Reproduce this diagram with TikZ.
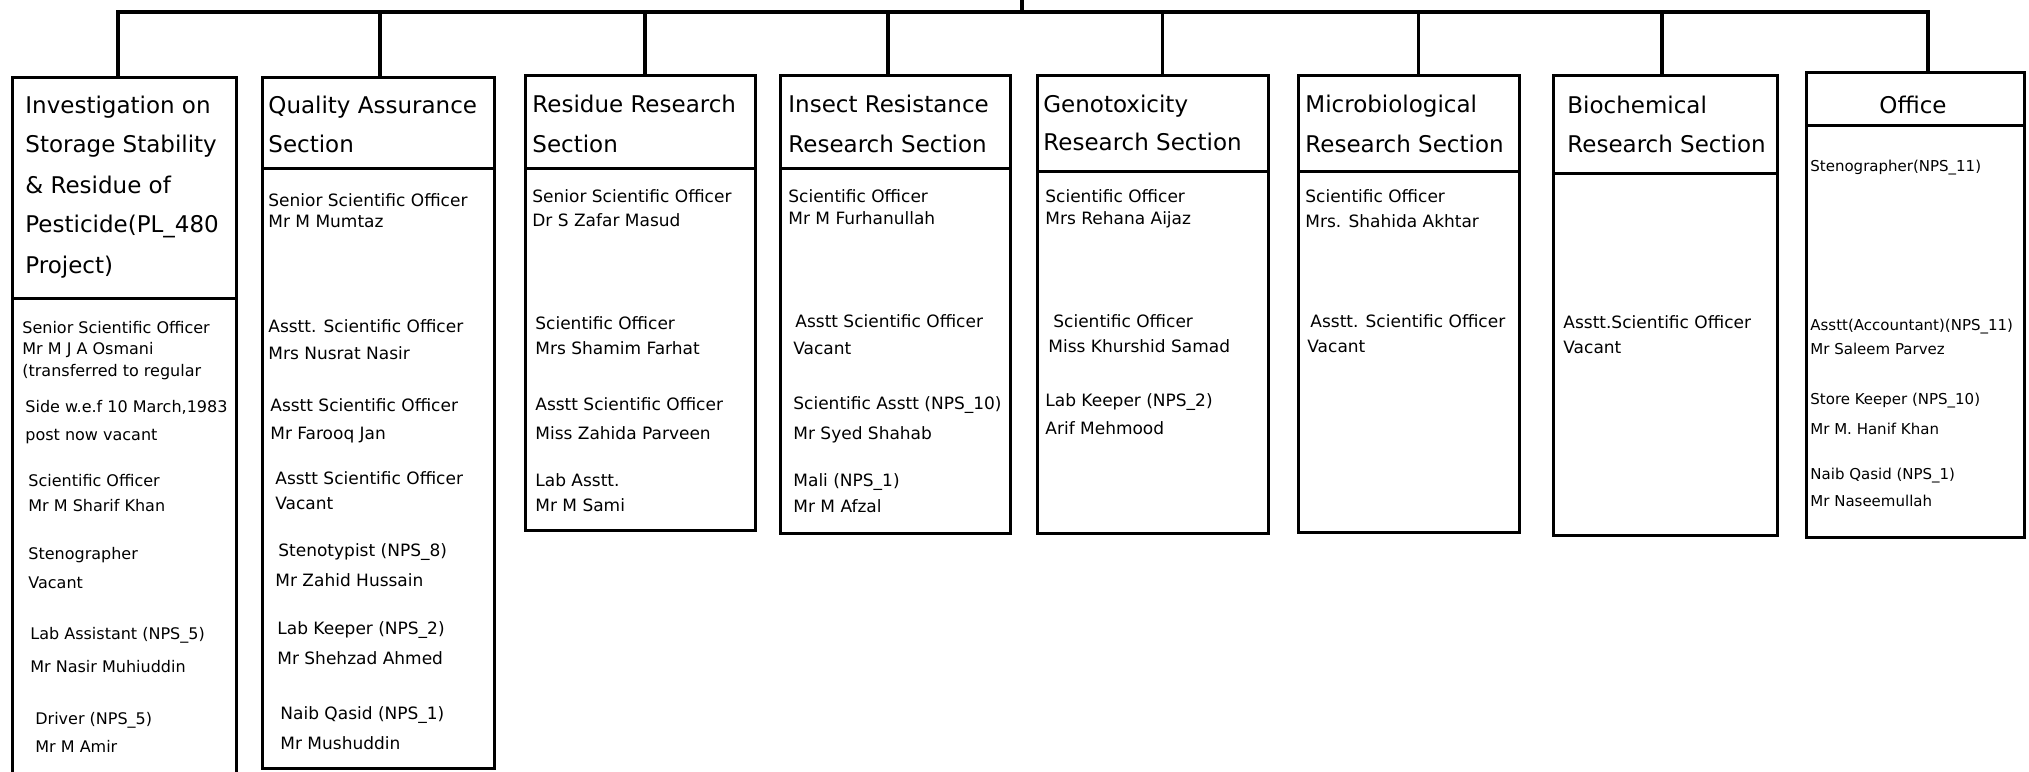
\documentclass[tikz,border=0pt]{standalone}
\usepackage{fontspec}
\setmainfont{DejaVu Sans}
\newcommand\secbox[6]{%
  \node[boxline,minimum width={(#4-#2)*0.5pt},minimum height={(#5-#3)*0.5pt}] (#1t) at (#2,#3) {};
  \node[boxline,minimum width={(#4-#2)*0.5pt},minimum height={(#6-#5)*0.5pt}] (#1b) at (#2,#5) {};}
\begin{document}
\begin{tikzpicture}[x=0.5pt,y=-0.5pt,
  boxline/.style={draw=black,line width=1.5pt,inner sep=0pt,outer sep=0pt,anchor=north west},
  conn/.style={draw=black,line width=1.8pt},
  tt/.style={inner sep=0pt,anchor=base west,font=\fontsize{11.5}{14}\selectfont},
  bt/.style={inner sep=0pt,anchor=base west,font=\fontsize{8.5}{10}\selectfont},
  bta/.style={inner sep=0pt,anchor=base west,font=\fontsize{8}{10}\selectfont},
  bto/.style={inner sep=0pt,anchor=base west,font=\fontsize{7.5}{9}\selectfont}]
\useasboundingbox (0,0) rectangle (2029,771);
\fill[white] (0,0) rectangle (2029,771);
\clip (0,0) rectangle (2029,771);

% boxes: name, x-left, y-top, x-right, y-title-bottom, y-bottom
\secbox{A}{12}{77}{236}{298}{800}
\secbox{B}{262}{77}{494}{168}{768}
\secbox{C}{525}{75}{755}{168}{530}
\secbox{D}{780}{75}{1010}{168}{533}
\secbox{E}{1037}{75}{1268}{171}{533}
\secbox{F}{1298}{75}{1519}{171}{532}
\secbox{G}{1553}{75}{1777}{173}{535}
\secbox{H}{1806}{72}{2024}{125}{537}

% connectors
\coordinate (bus) at (0,12);
\coordinate (par) at (1022,-10);
\draw[conn] ([xshift=-3pt]At.north) |- ([xshift=6.5pt]Ht.north |- bus) -- ([xshift=6.5pt]Ht.north);
\foreach \n/\s in {Bt/1pt,Ct/2.5pt,Dt/-3.5pt,Et/5pt,Ft/5pt,Gt/-1.5pt}
  \draw[conn] ([xshift=\s]\n.north) -- ([xshift=\s]\n.north |- bus);
\draw[conn] (par) -- (par |- bus);

% Box A
\node[tt] (A1) at (25,113) {Investigation on};
\node[tt] (A2) at (25,152) {Storage Stability};
\node[tt] (A3) at (25,193) {\& Residue of};
\node[tt] (A4) at (25,232) {Pesticide(PL\_480};
\node[tt] (A5) at (25,273) {Project)};
\node[bta] (A6) at (22,333) {Senior Scientific Officer};
\node[bta] (A7) at (22,354) {Mr M J A Osmani};
\node[bta] (A8) at (22,376) {(transferred to regular};
\node[bta] (A9) at (25,412) {Side w.e.f 10 March,1983};
\node[bta] (A10) at (25,440) {post now vacant};
\node[bta] (A11) at (28,486) {Scientific Officer};
\node[bta] (A12) at (28,511) {Mr M Sharif Khan};
\node[bta] (A13) at (28,559) {Stenographer};
\node[bta] (A14) at (28,588) {Vacant};
\node[bta] (A15) at (30,639) {Lab Assistant (NPS\_5)};
\node[bta] (A16) at (30,672) {Mr Nasir Muhiuddin};
\node[bta] (A17) at (35,724) {Driver (NPS\_5)};
\node[bta] (A18) at (35,752) {Mr M Amir};

% Box B
\node[tt] (B1) at (268,113) {Quality Assurance};
\node[tt] (B2) at (268,152) {Section};
\node[bt] (B3) at (268,206) {Senior Scientific Officer};
\node[bt] (B4) at (268,227) {Mr M Mumtaz};
\node[bt] (B5) at (268,332) {Asstt. Scientific Officer};
\node[bt] (B6) at (268,359) {Mrs Nusrat Nasir};
\node[bt] (B7) at (270,411) {Asstt Scientific Officer};
\node[bt] (B8) at (270,439) {Mr Farooq Jan};
\node[bt] (B9) at (275,484) {Asstt Scientific Officer};
\node[bt] (B10) at (275,509) {Vacant};
\node[bt] (B11) at (278,556) {Stenotypist (NPS\_8)};
\node[bt] (B12) at (275,586) {Mr Zahid Hussain};
\node[bt] (B13) at (277,634) {Lab Keeper (NPS\_2)};
\node[bt] (B14) at (277,664) {Mr Shehzad Ahmed};
\node[bt] (B15) at (280,719) {Naib Qasid (NPS\_1)};
\node[bt] (B16) at (280,749) {Mr Mushuddin};

% Box C
\node[tt] (C1) at (532,112) {Residue Research};
\node[tt] (C2) at (532,152) {Section};
\node[bt] (C3) at (532,202) {Senior Scientific Officer};
\node[bt] (C4) at (532,226) {Dr S Zafar Masud};
\node[bt] (C5) at (535,329) {Scientific Officer};
\node[bt] (C6) at (535,354) {Mrs Shamim Farhat};
\node[bt] (C7) at (535,410) {Asstt Scientific Officer};
\node[bt] (C8) at (535,439) {Miss Zahida Parveen};
\node[bt] (C9) at (535,486) {Lab Asstt.};
\node[bt] (C10) at (535,511) {Mr M Sami};

% Box D
\node[tt] (D1) at (788,112) {Insect Resistance};
\node[tt] (D2) at (788,152) {Research Section};
\node[bt] (D3) at (788,202) {Scientific Officer};
\node[bt] (D4) at (788,224) {Mr M Furhanullah};
\node[bt] (D5) at (795,327) {Asstt Scientific Officer};
\node[bt] (D6) at (793,354) {Vacant};
\node[bt] (D7) at (793,409) {Scientific Asstt (NPS\_10)};
\node[bt] (D8) at (793,439) {Mr Syed Shahab};
\node[bt] (D9) at (793,486) {Mali (NPS\_1)};
\node[bt] (D10) at (793,512) {Mr M Afzal};

% Box E
\node[tt] (E1) at (1043,112) {Genotoxicity};
\node[tt] (E2) at (1043,150) {Research Section};
\node[bt] (E3) at (1045,202) {Scientific Officer};
\node[bt] (E4) at (1045,224) {Mrs Rehana Aijaz};
\node[bt] (E5) at (1053,327) {Scientific Officer};
\node[bt] (E6) at (1048,352) {Miss Khurshid Samad};
\node[bt] (E7) at (1045,406) {Lab Keeper (NPS\_2)};
\node[bt] (E8) at (1045,434) {Arif Mehmood};

% Box F
\node[tt] (F1) at (1305,112) {Microbiological};
\node[tt] (F2) at (1305,152) {Research Section};
\node[bt] (F3) at (1305,202) {Scientific Officer};
\node[bt] (F4) at (1305,227) {Mrs. Shahida Akhtar};
\node[bt] (F5) at (1310,327) {Asstt. Scientific Officer};
\node[bt] (F6) at (1307,352) {Vacant};

% Box G
\node[tt] (G1) at (1567,113) {Biochemical};
\node[tt] (G2) at (1567,152) {Research Section};
\node[bt] (G3) at (1563,328) {Asstt.Scientific Officer};
\node[bt] (G4) at (1563,353) {Vacant};

% Box H
\node[tt,anchor=base] (H1) at (1913,113) {Office};
\node[bto] (H2) at (1810,171) {Stenographer(NPS\_11)};
\node[bto] (H3) at (1810,330) {Asstt(Accountant)(NPS\_11)};
\node[bto] (H4) at (1810,354) {Mr Saleem Parvez};
\node[bto] (H5) at (1810,404) {Store Keeper (NPS\_10)};
\node[bto] (H6) at (1810,434) {Mr M. Hanif Khan};
\node[bto] (H7) at (1810,479) {Naib Qasid (NPS\_1)};
\node[bto] (H8) at (1810,506) {Mr Naseemullah};
\end{tikzpicture}
\end{document}
